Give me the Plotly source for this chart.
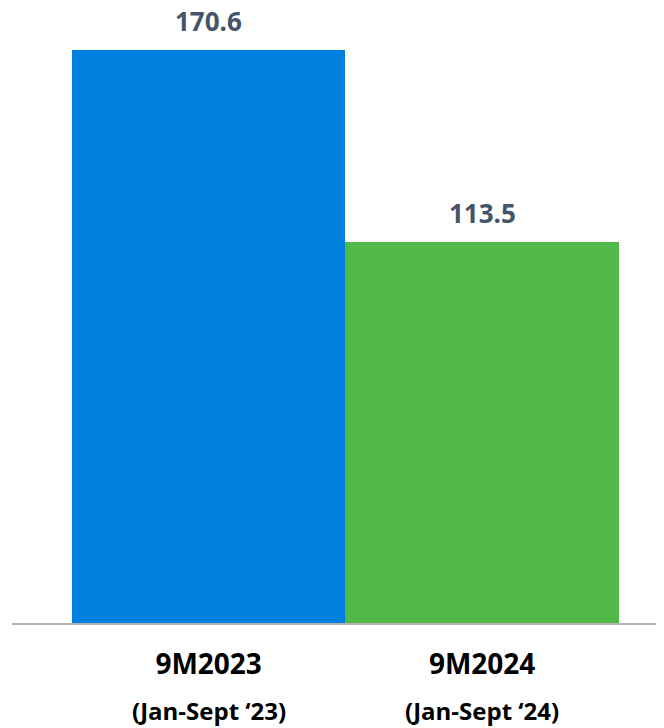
import plotly.graph_objects as go

categories = ["9M2023", "9M2024"]
sub_labels = ["(Jan-Sept ‘23)", "(Jan-Sept ‘24)"]
values = [170.6, 113.5]
colors = ["#0080DE", "#52B848"]

xpos = list(range(len(categories)))

fig = go.Figure()
fig.add_trace(go.Bar(
    x=xpos, y=values, width=1.0,
    marker=dict(color=colors, line=dict(width=0)),
    hoverinfo="skip",
))

for x, v in zip(xpos, values):
    fig.add_annotation(
        x=x, y=v, xref="x", yref="y", text=f"<b>{v:.1f}</b>",
        showarrow=False, yanchor="bottom", yshift=9,
        font=dict(family="Open Sans", size=26, color="#44546A"),
    )

for x, s in zip(xpos, sub_labels):
    fig.add_annotation(
        x=x, y=0, xref="x", yref="y", text=f"<b>{s}</b>",
        showarrow=False, yanchor="middle", yshift=-87,
        font=dict(family="Open Sans", size=24, color="#000000"),
    )

# page body has an 8px default margin; figure sized to fit the 664x728 window
fig.update_layout(
    width=656, height=720,
    margin=dict(l=4, r=0, t=0, b=105),
    plot_bgcolor="white", paper_bgcolor="white",
    showlegend=False, bargap=0,
    xaxis=dict(
        range=[-0.719, 1.665],
        tickvals=xpos,
        ticktext=[f"<b>{c}</b>" for c in categories],
        tickfont=dict(family="Open Sans", size=28, color="#000000"),
        showline=True, linecolor="#B3B3B3", linewidth=2,
        ticks="", showgrid=False, zeroline=False,
        ticklabelstandoff=15, automargin=False,
    ),
    yaxis=dict(
        range=[0, 183.1], visible=False, showgrid=False, zeroline=False,
        automargin=False,
    ),
)

fig.write_html("out.html")
